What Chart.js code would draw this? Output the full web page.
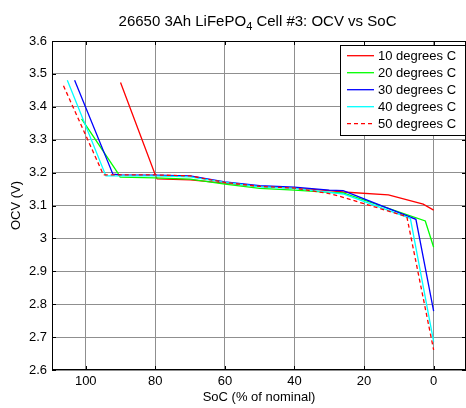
<!DOCTYPE html>
<html>
<head>
<meta charset="utf-8">
<script src="https://cdn.jsdelivr.net/npm/chart.js@4.4.0/dist/chart.umd.min.js"></script>
<style>
html,body{margin:0;padding:0;background:#fff;}
#wrap{width:466px;height:408px;}
</style>
</head>
<body>
<div id="wrap"><canvas id="c" width="466" height="408"></canvas></div>
<script>
// ---- data ----
const seriesLabels = ['10 degrees C','20 degrees C','30 degrees C','40 degrees C','50 degrees C'];
const soc10 = [90, 80, 79.5, 70, 60, 50, 40, 30, 26, 13, 3, 0];
const ocv10 = [3.474, 3.193, 3.181, 3.178, 3.168, 3.158, 3.153, 3.145, 3.141, 3.132, 3.104, 3.086];
const soc20 = [101.2, 90.9, 90.1, 80, 70, 60, 50, 40, 30, 26, 2.4, 0];
const ocv20 = [3.363, 3.201, 3.186, 3.184, 3.180, 3.165, 3.152, 3.147, 3.140, 3.138, 3.053, 2.973];
const soc30 = [103.2, 92.2, 90, 80, 70, 60, 50, 40, 30, 26, 5.1, 0];
const ocv30 = [3.481, 3.195, 3.193, 3.192, 3.190, 3.172, 3.160, 3.156, 3.147, 3.145, 3.058, 2.779];
const soc40 = [105.3, 94.2, 80, 70, 60, 50, 40, 30, 26, 6.7, 0];
const ocv40 = [3.481, 3.190, 3.190, 3.187, 3.170, 3.157, 3.152, 3.140, 3.135, 3.061, 2.686];
const soc50 = [106.4, 94.9, 80, 70, 60, 50, 40, 30, 27, 7.7, 0];
const ocv50 = [3.464, 3.193, 3.193, 3.190, 3.170, 3.158, 3.153, 3.136, 3.128, 3.066, 2.661];
const xTicks = [0, 20, 40, 60, 80, 100];
const yTicks = [2.6, 2.7, 2.8, 2.9, 3.0, 3.1, 3.2, 3.3, 3.4, 3.5, 3.6];

const colors = ['#ff0000', '#00ff00', '#0000ff', '#00ffff', '#ff0000'];
const dashes = [[], [], [], [], [4, 3]];
const socs = [soc10, soc20, soc30, soc40, soc50];
const ocvs = [ocv10, ocv20, ocv30, ocv40, ocv50];

const FONT = 'Liberation Sans, Arial, sans-serif';

const datasets = seriesLabels.map((lab, i) => ({
  label: lab,
  data: socs[i].map((s, k) => ({x: s, y: ocvs[i][k]})),
  borderColor: colors[i],
  backgroundColor: colors[i],
  borderWidth: 1.3,
  borderDash: dashes[i],
  pointRadius: 0,
  tension: 0,
  fill: false,
  order: 4 - i
}));

const decor = {
  id: 'decor',
  afterDraw(chart) {
    const ctx = chart.ctx;
    const a = chart.chartArea;
    ctx.save();
    // box
    ctx.strokeStyle = '#000';
    ctx.lineWidth = 1;
    ctx.strokeRect(a.left + 0.5, a.top + 0.5, a.right - a.left - 1, a.bottom - a.top - 1);
    // inner tick marks
    const xs = chart.scales.x, ys = chart.scales.y;
    ctx.beginPath();
    xTicks.forEach(v => {
      const px = Math.round(xs.getPixelForValue(v)) + 0.5;
      ctx.moveTo(px, a.top); ctx.lineTo(px, a.top + 4);
      ctx.moveTo(px, a.bottom); ctx.lineTo(px, a.bottom - 4);
    });
    yTicks.forEach(v => {
      const py = Math.round(ys.getPixelForValue(v)) + 0.5;
      ctx.moveTo(a.left, py); ctx.lineTo(a.left + 4, py);
      ctx.moveTo(a.right, py); ctx.lineTo(a.right - 4, py);
    });
    ctx.stroke();
    // title with subscript
    const t1 = '26650 3Ah LiFePO', t2 = '4', t3 = ' Cell #3: OCV vs SoC';
    ctx.fillStyle = '#000';
    ctx.textBaseline = 'alphabetic';
    ctx.textAlign = 'left';
    ctx.font = '15px ' + FONT;
    const w1 = ctx.measureText(t1).width, w3 = ctx.measureText(t3).width;
    ctx.font = '11px ' + FONT;
    const w2 = ctx.measureText(t2).width;
    const total = w1 + w2 + w3;
    let x0 = 257.5 - total / 2;
    const by = 25.5;
    ctx.font = '15px ' + FONT;
    ctx.fillText(t1, x0, by);
    ctx.font = '11px ' + FONT;
    ctx.fillText(t2, x0 + w1, by + 4);
    ctx.font = '15px ' + FONT;
    ctx.fillText(t3, x0 + w1 + w2, by);
    // legend
    const lx = 340.5, ly = 45.5, lw = 125, lh = 90;
    ctx.fillStyle = '#fff';
    ctx.fillRect(lx, ly, lw, lh);
    ctx.strokeStyle = '#000';
    ctx.lineWidth = 1;
    ctx.strokeRect(lx, ly, lw, lh);
    ctx.font = '13px ' + FONT;
    ctx.textBaseline = 'middle';
    seriesLabels.forEach((lab, i) => {
      const y = 55.7 + i * 17;
      ctx.beginPath();
      ctx.strokeStyle = colors[i];
      ctx.lineWidth = 1.3;
      ctx.setLineDash(dashes[i]);
      ctx.moveTo(347, y); ctx.lineTo(374, y);
      ctx.stroke();
      ctx.setLineDash([]);
      ctx.fillStyle = '#000';
      ctx.fillText(lab, 378, y + 0.5);
    });
    ctx.restore();
  }
};

new Chart(document.getElementById('c'), {
  type: 'line',
  data: { datasets },
  options: {
    responsive: false,
    animation: false,
    devicePixelRatio: 1,
    layout: { padding: { top: 41, right: 0, left: 0, bottom: 0 } },
    plugins: { legend: { display: false }, title: { display: false }, tooltip: { enabled: false } },
    scales: {
      x: {
        type: 'linear',
        reverse: true,
        min: -9.3,
        max: 109.7,
        afterBuildTicks(s) { s.ticks = xTicks.map(v => ({value: v})); },
        afterFit(s) { s.height = 38; },
        grid: { color: '#8f8f8f', lineWidth: 1, drawTicks: false },
        border: { display: false },
        ticks: { color: '#000', font: { size: 13, family: FONT }, padding: 4, autoSkip: false, maxRotation: 0,
          callback: v => String(v) },
        title: { display: true, text: 'SoC (% of nominal)', color: '#000', font: { size: 13, family: FONT }, padding: { top: 0, bottom: 3 } }
      },
      y: {
        type: 'linear',
        min: 2.6,
        max: 3.6,
        afterBuildTicks(s) { s.ticks = yTicks.map(v => ({value: v})); },
        afterFit(s) { s.width = 52; },
        grid: { color: '#8f8f8f', lineWidth: 1, drawTicks: false },
        border: { display: false },
        ticks: { color: '#000', font: { size: 13, family: FONT }, padding: 5, autoSkip: false,
          callback: v => String(Number(v.toFixed(1))) },
        title: { display: true, text: 'OCV (V)', color: '#000', font: { size: 13, family: FONT }, padding: { top: 9, bottom: 0 } }
      }
    }
  },
  plugins: [decor]
});
</script>
</body>
</html>
